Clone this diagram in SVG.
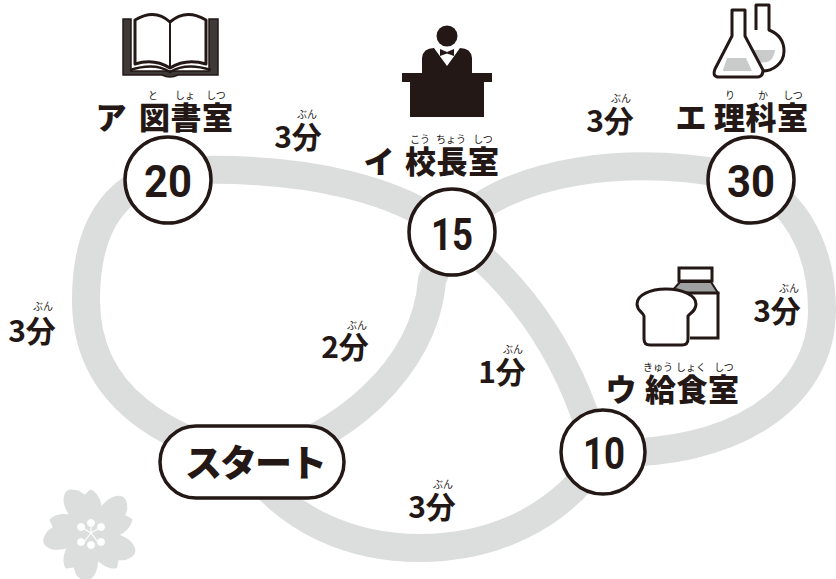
<svg xmlns="http://www.w3.org/2000/svg" width="836" height="579" viewBox="0 0 836 579">
<style>
text{font-family:"Noto Sans CJK JP","Noto Sans",sans-serif;fill:#231815;text-anchor:middle}
.l{font-size:31px;font-weight:900}
.r{font-size:10px;font-weight:400}
.t{font-size:30px;font-weight:700}
.n{font-family:"Roboto","Liberation Sans",sans-serif;font-size:44px;font-weight:700}
.c{fill:#fff;stroke:#231815;stroke-width:3.5}
.track{fill:none;stroke:#dcdddd;stroke-width:28}
.ln{fill:none;stroke:#231815;stroke-width:3;stroke-linejoin:round}
</style>
<g id="connectors">
<path class="track" d="M252 462C170 440 86 400 86 300C86 210 130 170 200 170C310 168 400 190 452 232C490 262 555 320 590 430L603 452"/>
<path class="track" d="M603 452C560 520 490 548 420 548C350 548 290 520 252 470"/>
<path class="track" d="M252 462C340 440 425 370 432 280L452 232"/>
<path class="track" d="M452 232C500 170 640 150 751 180C810 210 822 270 822 310C822 400 730 458 603 452"/>
</g>
<g id="blossom">
<g fill="#dcdddd" transform="rotate(-8 91 533) translate(91 533) scale(.92) translate(-91 -533)">
<path id="p" d="M91 533C72 520 62 500 68 488C72 480 80 484 85 486L90 491L97 486C105 490 110 505 104 518Z" />
<use href="#p" transform="rotate(72 91 533)"/>
<use href="#p" transform="rotate(144 91 533)"/>
<use href="#p" transform="rotate(216 91 533)"/>
<use href="#p" transform="rotate(288 91 533)"/>
</g>
<g fill="#fff" stroke="#fff"><g stroke-width="1.2"><path d="M91 533V526M91 533L81 527M91 533L84 542M91 533L98 542M91 533L101 527"/></g>
<circle cx="91" cy="523" r="3.500"/><circle cx="81" cy="527" r="3.500"/><circle cx="101" cy="527" r="3.500"/><circle cx="81" cy="542" r="3.500"/><circle cx="101" cy="542" r="3.500"/><circle cx="91" cy="545" r="3.500"/></g>
</g>
<g id="book">
<path d="M123 19H131V71H209V19H218V75H178Q170 79 162 75H123Z" fill="#3e3a39" stroke="#231815" stroke-width="1.5"/>
<path d="M130 70Q155 62 170 72Q186 62 211 70" fill="none" stroke="#231815" stroke-width="2.500"/>
<path d="M135 20Q155 8 170 22Q186 8 206 20V64Q186 58 170 68Q154 58 135 64Z" fill="#fff" stroke="#231815" stroke-width="3" stroke-linejoin="round"/>
<path d="M170 22V68" stroke="#231815" stroke-width="2"/>
</g>
<g id="principal">
<circle cx="447" cy="36" r="10.500" fill="#231815"/>
<path d="M422 73V58Q423 48 434 48L447 66L460 48Q471 48 472 58V73Z" fill="#231815"/>
<path d="M440 49L447 52L454 49V56L447 53.500L440 56Z" fill="#231815"/>
<path d="M402 73H492V82H484V117H410V82H402Z" fill="#231815"/>
</g>
<g id="flasks">
<path class="ln" d="M756 30V5H769V30Q784 36 784 51C784 63 773 72 760 71" fill="#fff"/>
<path d="M754 50H775Q773 65 759 62Z" fill="#c9caca"/>
<path class="ln" d="M732 10H745V36L763 70Q763 77 757 77H719Q712 77 715 69L732 36Z" style="fill:#fff"/>
<path d="M727 58H746L752 71H724Q722 71 724 67Z" fill="#c9caca"/>
</g>
<g id="food">
<path d="M679 268H712V281H679Z" fill="#fff" stroke="#231815" stroke-width="3"/>
<path d="M680 282H711L718 293H670Z" fill="#9fa0a0" stroke="#231815" stroke-width="2"/>
<path d="M670 293H718V338H690" fill="#fff" stroke="#231815" stroke-width="3"/>
<path d="M666 289C650 289 637 295 637 304C637 311 643 312 644 316V339Q644 345 650 345H682Q688 345 688 339V316C692 312 696 310 696 304C696 295 682 289 666 289Z" fill="#fff" stroke="#231815" stroke-width="3"/>
</g>
<g id="node-a"><circle class="c" cx="168" cy="180" r="43"/><text class="n" x="168" y="197" textLength="48" lengthAdjust="spacingAndGlyphs">20</text>
<text class="l" x="111" y="129">ア</text><text class="l" x="186" y="129" textLength="94">図書室</text>
<text class="r" x="153" y="99">と</text><text class="r" x="185" y="99">しょ</text><text class="r" x="216" y="99">しつ</text></g>
<g id="node-i"><circle class="c" cx="452" cy="232" r="43"/><text class="n" x="452" y="250" textLength="42" lengthAdjust="spacingAndGlyphs">15</text>
<text class="l" x="379" y="173">イ</text><text class="l" x="452" y="173" textLength="94">校長室</text>
<text class="r" x="420" y="143">こう</text><text class="r" x="451" y="143">ちょう</text><text class="r" x="483" y="143">しつ</text></g>
<g id="node-e"><circle class="c" cx="751" cy="180" r="43"/><text class="n" x="751" y="197" textLength="48" lengthAdjust="spacingAndGlyphs">30</text>
<text class="l" x="691" y="129">エ</text><text class="l" x="761" y="129" textLength="94">理科室</text>
<text class="r" x="730" y="99">り</text><text class="r" x="763" y="99">か</text><text class="r" x="793" y="99">しつ</text></g>
<g id="node-u"><circle class="c" cx="603" cy="452" r="42"/><text class="n" x="604" y="469" textLength="42" lengthAdjust="spacingAndGlyphs">10</text>
<text class="l" x="621" y="401">ウ</text><text class="l" x="692" y="401" textLength="94">給食室</text>
<text class="r" x="658" y="371">きゅう</text><text class="r" x="691" y="371">しょく</text><text class="r" x="724" y="371">しつ</text></g>
<g id="node-start"><rect class="c" x="160" y="426" width="184" height="72" rx="36"/><text x="256" y="477" font-size="37" font-weight="900" textLength="142">スタート</text></g>
<g id="labels">
<text class="t" x="298" y="148">3分</text><text class="r" x="307" y="118">ぶん</text>
<text class="t" x="610" y="132">3分</text><text class="r" x="621" y="102">ぶん</text>
<text class="t" x="32" y="342">3分</text><text class="r" x="43" y="310">ぶん</text>
<text class="t" x="777" y="322">3分</text><text class="r" x="789" y="292">ぶん</text>
<text class="t" x="345" y="358">2分</text><text class="r" x="357" y="329">ぶん</text>
<text class="t" x="502" y="383">1分</text><text class="r" x="513" y="353">ぶん</text>
<text class="t" x="432" y="518">3分</text><text class="r" x="443" y="488">ぶん</text>
</g>
</svg>
